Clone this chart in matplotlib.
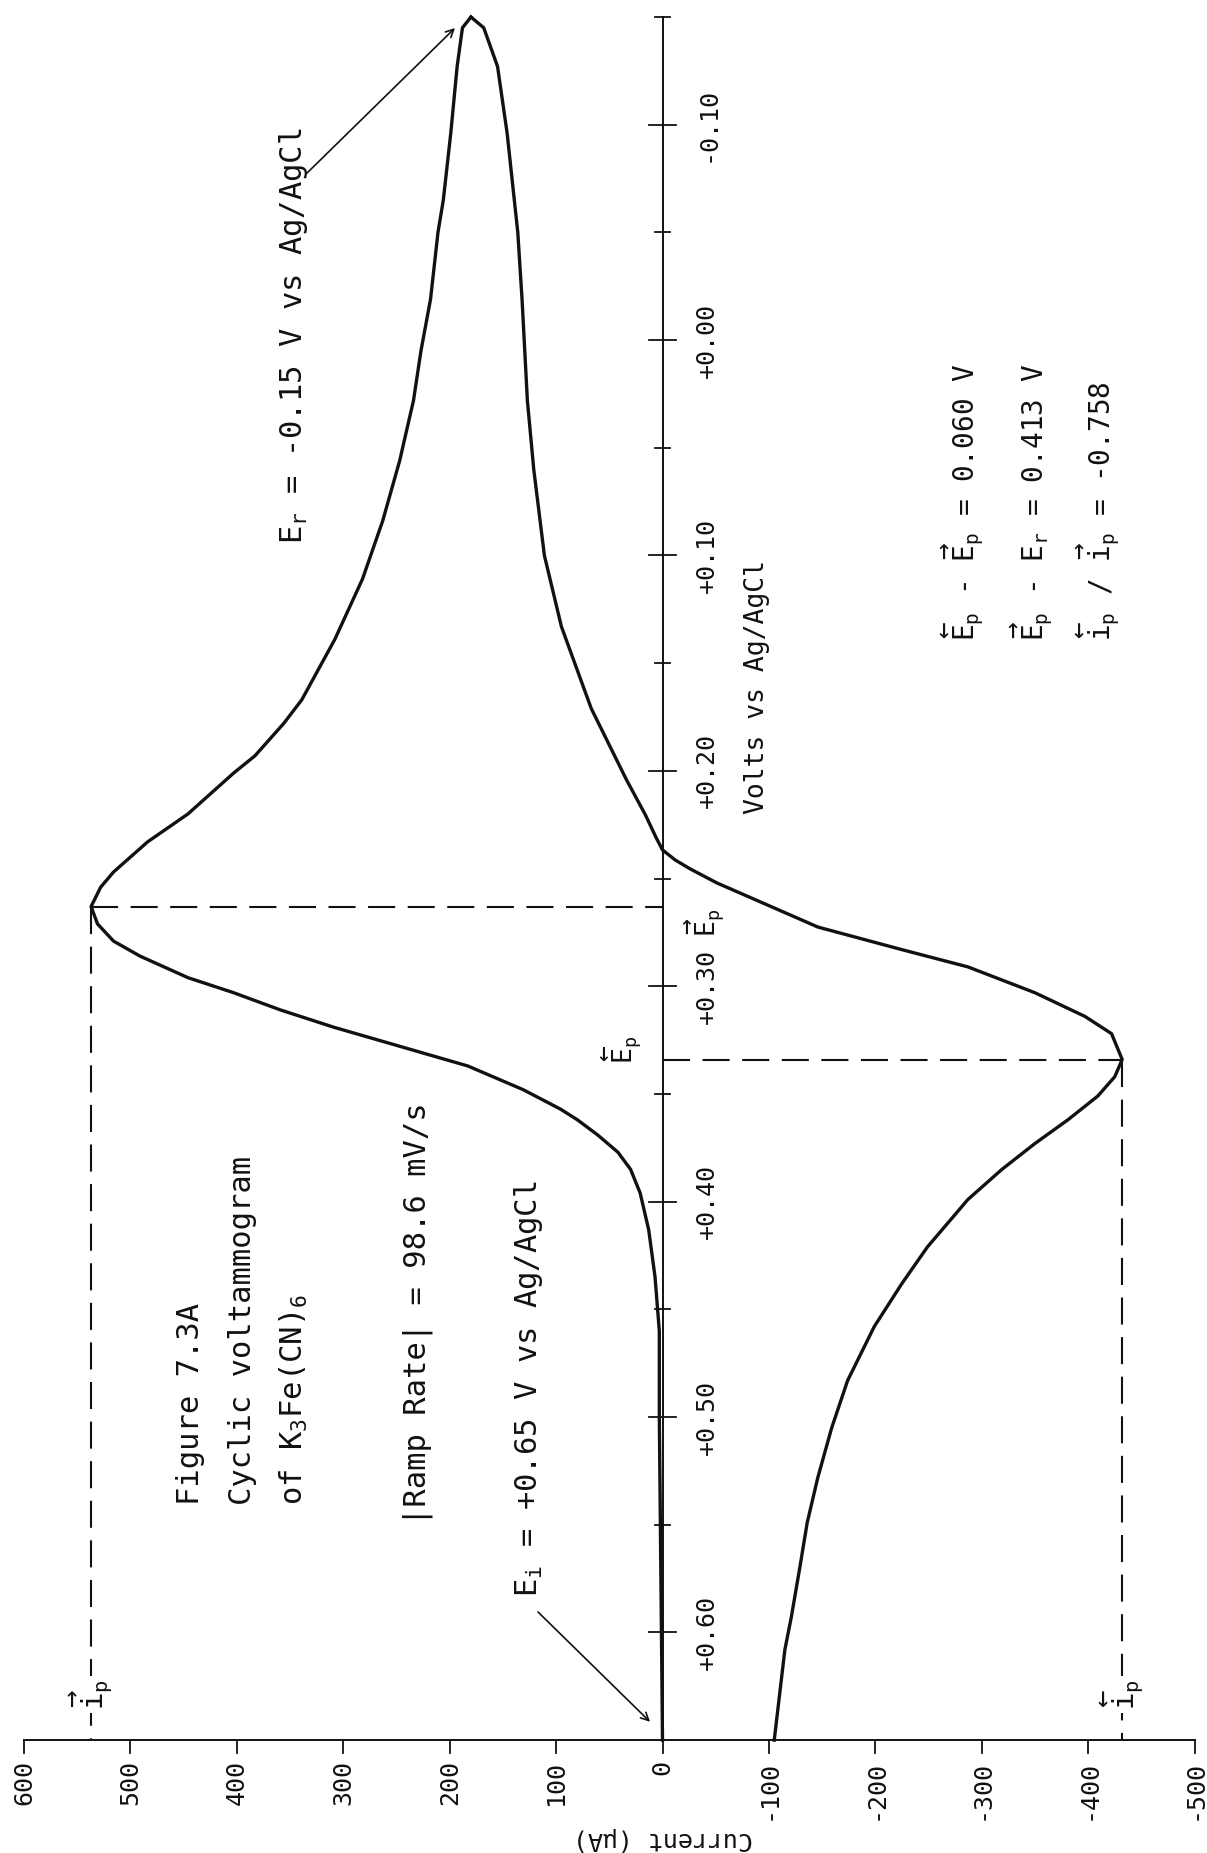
import matplotlib.pyplot as plt

plt.rcParams['font.family'] = ['DejaVu Sans Mono', 'DejaVu Sans']
plt.rcParams['mathtext.fontset'] = 'custom'
plt.rcParams['mathtext.rm'] = 'DejaVu Sans Mono'
plt.rcParams['mathtext.it'] = 'DejaVu Sans Mono'
plt.rcParams['mathtext.bf'] = 'DejaVu Sans Mono:bold'

# potential axis (V vs Ag/AgCl), drawn vertically on the page
volt_ticks = [-0.10, 0.00, 0.10, 0.20, 0.30, 0.40, 0.50, 0.60]
volt_labels = ['-0.10', '+0.00', '+0.10', '+0.20', '+0.30', '+0.40', '+0.50', '+0.60']
volt_minor = [-0.15, -0.05, 0.05, 0.15, 0.25, 0.35, 0.45, 0.55]

# current axis (uA), drawn along the bottom
curr_ticks = [600, 500, 400, 300, 200, 100, 0, -100, -200, -300, -400, -500]
curr_labels = ['600', '500', '400', '300', '200', '100', '0',
               '-100', '-200', '-300', '-400', '-500']

e_init = 0.65
e_rev = -0.15

# forward sweep, +0.65 V -> -0.15 V
fwd_volts = [0.65, 0.60, 0.55, 0.50, 0.46, 0.435, 0.413, 0.396, 0.385, 0.377,
             0.369, 0.362, 0.357, 0.348, 0.337, 0.328, 0.319, 0.311, 0.303, 0.296,
             0.286, 0.279, 0.271, 0.263, 0.254, 0.247, 0.233, 0.220, 0.201, 0.193,
             0.178, 0.167, 0.139, 0.111, 0.084, 0.056, 0.028, 0.005, -0.019, -0.050,
             -0.065, -0.096, -0.127, -0.145, -0.150]
fwd_curr = [0, 1, 2, 3, 3, 7, 13, 21, 30, 42,
            61, 80, 96, 131, 183, 246, 309, 359, 403, 446,
            491, 516, 531, 537, 528, 516, 484, 446, 403, 383,
            356, 339, 308, 282, 263, 247, 234, 227, 218, 211,
            206, 199, 193, 188, 180]

# reverse sweep, -0.15 V -> +0.65 V
rev_volts = [-0.150, -0.145, -0.127, -0.096, -0.050, -0.019, 0.028, 0.060, 0.100, 0.133,
             0.171, 0.204, 0.2205, 0.231, 0.2367, 0.2414, 0.2455, 0.252, 0.2576, 0.2725,
             0.283, 0.291, 0.303, 0.314, 0.322, 0.334, 0.342, 0.351, 0.362, 0.373,
             0.385, 0.399, 0.421, 0.438, 0.458, 0.483, 0.505, 0.528, 0.549, 0.570,
             0.593, 0.608, 0.65]
rev_curr = [180, 168, 155, 146, 136, 132, 127, 121, 111, 95,
            67, 34, 16, 6, 0, -12, -26, -51, -77, -146,
            -225, -287, -350, -397, -422, -432, -425, -409, -381, -350,
            -319, -287, -249, -225, -199, -174, -159, -146, -136, -129,
            -121, -115, -105]

# peak positions
ep_fwd, ip_fwd = 0.263, 537
ep_rev, ip_rev = 0.334, -432

fig = plt.figure(figsize=(12.07, 18.53), dpi=100)
ax = fig.add_axes([0, 0, 1, 1])
ax.set_xlim(622.6, -511.7)
ax.set_ylim(0.7024, -0.1579)
ax.axis('off')

ink = '#111111'
dash = (0, (13, 6))

# axes
ax.plot([0, 0], [e_rev, e_init], color=ink, lw=1.4)
ax.plot([curr_ticks[0], curr_ticks[-1]], [e_init, e_init], color=ink, lw=1.4)
for v in volt_ticks:
    ax.plot([13, -13], [v, v], color=ink, lw=1.3)
for v in volt_minor:
    ax.plot([7, -7], [v, v], color=ink, lw=1.3)
for c in curr_ticks:
    ax.plot([c, c], [e_init, e_init + 0.006], color=ink, lw=1.3)

for v, lab in zip(volt_ticks, volt_labels):
    ax.text(-42, v, lab, rotation=90, ha='center', va='center', fontsize=18, color=ink)
for c, lab in zip(curr_ticks, curr_labels):
    ax.text(c, 0.659, lab, rotation=90, ha='center', va='top', fontsize=18, color=ink)

ax.text(0, 0.696, 'Current (µA)', rotation=180, ha='center', va='center',
        fontsize=18, color=ink)
ax.text(-89, 0.161, 'Volts vs Ag/AgCl', rotation=90, ha='center', va='center',
        fontsize=19, color=ink)

# voltammogram
ax.plot(fwd_curr, fwd_volts, color=ink, lw=2.4, solid_joinstyle='round')
ax.plot(rev_curr, rev_volts, color=ink, lw=2.4, solid_joinstyle='round')

# peak construction lines
ax.plot([ip_fwd, 0], [ep_fwd, ep_fwd], color=ink, lw=1.5, linestyle=dash)
ax.plot([ip_fwd, ip_fwd], [ep_fwd, e_init], color=ink, lw=1.5, linestyle=dash)
ax.plot([0, ip_rev], [ep_rev, ep_rev], color=ink, lw=1.5, linestyle=dash)
ax.plot([ip_rev, ip_rev], [ep_rev, e_init], color=ink, lw=1.5, linestyle=dash)

white = dict(facecolor='white', edgecolor='none', pad=2)
ax.text(ip_fwd, 0.636, r'$\overrightarrow{i}_p$', rotation=90, ha='center', va='bottom',
        fontsize=21, color=ink, bbox=white)
ax.text(ip_rev, 0.636, r'$\overleftarrow{i}_p$', rotation=90, ha='center', va='bottom',
        fontsize=21, color=ink, bbox=white)
ax.text(-40, 0.277, r'$\overrightarrow{E}_p$', rotation=90, ha='center', va='bottom',
        fontsize=19, color=ink)
ax.text(38, 0.336, r'$\overleftarrow{E}_p$', rotation=90, ha='center', va='bottom',
        fontsize=19, color=ink)

# caption block
ax.text(444, 0.541, 'Figure 7.3A', rotation=90, ha='center', va='bottom',
        fontsize=22, color=ink)
ax.text(395, 0.541, 'Cyclic voltammogram', rotation=90, ha='center', va='bottom',
        fontsize=22, color=ink)
ax.text(346, 0.541, r'of K$_3$Fe(CN)$_6$', rotation=90, ha='center', va='bottom',
        fontsize=22, color=ink)
ax.text(230, 0.550, '|Ramp Rate| = 98.6 mV/s', rotation=90, ha='center', va='bottom',
        fontsize=22, color=ink)

ax.text(126, 0.5835, r'$E_i$ = +0.65 V vs Ag/AgCl', rotation=90, ha='center',
        va='bottom', fontsize=22, color=ink)
ax.annotate('', xy=(11.7, 0.6415), xytext=(117, 0.5905),
            arrowprops=dict(arrowstyle='->', lw=1.2, color=ink, shrinkA=0, shrinkB=0,
                            mutation_scale=14))

ax.text(347, -0.0989, r'$E_r$ = -0.15 V vs Ag/AgCl', rotation=90, ha='center',
        va='top', fontsize=22, color=ink)
ax.annotate('', xy=(195, -0.1449), xytext=(334, -0.0776),
            arrowprops=dict(arrowstyle='->', lw=1.2, color=ink, shrinkA=0, shrinkB=0,
                            mutation_scale=14))

# peak statistics
ax.text(-282, 0.1397, r'$\overleftarrow{E}_p$ - $\overrightarrow{E}_p$ = 0.060 V',
        rotation=90, ha='center', va='bottom', fontsize=20, color=ink)
ax.text(-347, 0.1397, r'$\overrightarrow{E}_p$ - $E_r$ = 0.413 V',
        rotation=90, ha='center', va='bottom', fontsize=20, color=ink)
ax.text(-410, 0.1397, r'$\overleftarrow{i}_p$ / $\overrightarrow{i}_p$ = -0.758',
        rotation=90, ha='center', va='bottom', fontsize=20, color=ink)

fig.savefig('out.png', dpi=100, facecolor='white')
